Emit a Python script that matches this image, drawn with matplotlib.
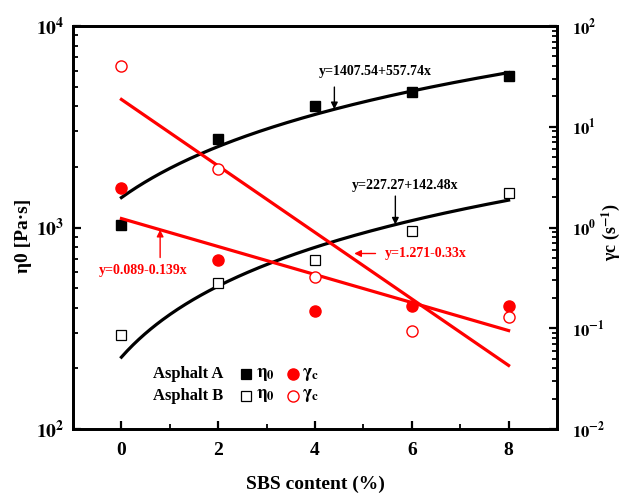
import numpy as np
import matplotlib
matplotlib.use("Agg")
import matplotlib.pyplot as plt
from matplotlib.ticker import LogLocator, FixedLocator, FuncFormatter, NullFormatter

plt.rcParams['font.family'] = ['Liberation Serif', 'DejaVu Serif']
plt.rcParams['font.weight'] = 'bold'
plt.rcParams['mathtext.fontset'] = 'stix'

# ---- data ----
sbs = [0, 2, 4, 6, 8]
eta_A = [1029, 2761, 4018, 4688, 5650]
eta_B = [292, 528, 690, 961, 1483]
gc_A = [2.44, 0.473, 0.148, 0.168, 0.166]
gc_B = [40.5, 3.83, 0.321, 0.0935, 0.129]

# fit equations shown in the chart
fit_eta_A = (1407.54, 557.74)   # eta0 = a + b x
fit_eta_B = (227.27, 142.48)
fit_gc_A = (0.089, -0.139)      # log10(gc) = a + b x
fit_gc_B = (1.271, -0.33)

x_ticks = [0, 2, 4, 6, 8]
x_minor = [1, 3, 5, 7]

RED = '#ff0000'

fig = plt.figure(figsize=(6.22, 4.95), dpi=100)
ax = fig.add_axes([0.1174, 0.1333, 0.7781, 0.8142])
ax2 = ax.twinx()

xf = np.linspace(0, 8, 200)

# left axis: eta0
ax.plot(xf, fit_eta_A[0] + fit_eta_A[1] * xf, color='black', lw=2.3, zorder=2)
ax.plot(xf, fit_eta_B[0] + fit_eta_B[1] * xf, color='black', lw=2.3, zorder=2)
ax.plot(sbs, eta_A, ls='none', marker='s', ms=7, mfc='black', mec='black', zorder=3)
ax.plot(sbs, eta_B, ls='none', marker='s', ms=6.5, mfc='white', mec='black', mew=0.9, zorder=3)

# right axis: gamma_c
ax2.plot(xf, 10 ** (fit_gc_A[0] + fit_gc_A[1] * xf), color=RED, lw=2.3, zorder=2)
ax2.plot(xf, 10 ** (fit_gc_B[0] + fit_gc_B[1] * xf), color=RED, lw=2.3, zorder=2)
ax2.plot(sbs, gc_A, ls='none', marker='o', ms=8, mfc=RED, mec=RED, zorder=3)
ax2.plot(sbs, gc_B, ls='none', marker='o', ms=8, mfc='white', mec=RED, mew=1.0, zorder=3)

ax.set_xlim(-1, 9)
ax.set_yscale('log')
ax.set_ylim(100, 10000)
ax2.set_yscale('log')
ax2.set_ylim(0.01, 100)

ax.xaxis.set_major_locator(FixedLocator(x_ticks))
ax.xaxis.set_minor_locator(FixedLocator(x_minor))

def logfmt(v, pos):
    e = int(round(np.log10(v)))
    return r'$\mathbf{10^{%d}}$' % e

for a in (ax, ax2):
    a.yaxis.set_major_locator(LogLocator(base=10, numticks=10))
    a.yaxis.set_minor_locator(LogLocator(base=10, subs=np.arange(2, 10), numticks=10))
    a.yaxis.set_major_formatter(FuncFormatter(logfmt))
    a.yaxis.set_minor_formatter(NullFormatter())
    for s in a.spines.values():
        s.set_linewidth(2.0)

ax.tick_params(axis='both', which='major', direction='in', length=6, width=1.6, labelsize=14, pad=6)
ax.tick_params(axis='x', which='major', pad=9)
ax.tick_params(axis='both', which='minor', direction='in', length=3.5, width=1.3)
ax.tick_params(axis='y', which='both', right=False)
ax.tick_params(axis='x', which='both', top=False)
ax2.tick_params(axis='y', which='major', direction='in', length=6, width=1.6, labelsize=12, pad=11)
ax2.tick_params(axis='y', which='minor', direction='in', length=3.5, width=1.3)

for lab in ax.get_xticklabels():
    lab.set_fontweight('bold')

ax.set_xlabel('SBS content (%)', fontsize=14, fontweight='bold')
ax.xaxis.set_label_coords(0.5, -0.115)
ax.set_ylabel(r'η0 [Pa·s]', fontsize=14, fontweight='bold')
ax.yaxis.set_label_coords(-0.085, 0.479)
ax2.set_ylabel(r'γc (s$^{\mathbf{-1}}$)', fontsize=13, fontweight='bold')
ax2.yaxis.set_label_coords(1.088, 0.488)

# annotations
arw = dict(arrowstyle='-|>', lw=1.0, mutation_scale=10, shrinkA=0, shrinkB=0)
ax.text(5.25, 5920, 'y=1407.54+557.74x', ha='center', va='center', fontsize=10, fontweight='bold')
ax.annotate('', xy=(4.40, fit_eta_A[0] + fit_eta_A[1] * 4.40), xytext=(4.40, 4977),
            arrowprops=dict(arw, color='black'))
ax.text(5.86, 1607, 'y=227.27+142.48x', ha='center', va='center', fontsize=10, fontweight='bold')
ax.annotate('', xy=(5.66, fit_eta_B[0] + fit_eta_B[1] * 5.66), xytext=(5.66, 1432),
            arrowprops=dict(arw, color='black'))

ax2.text(0.45, 10 ** -0.427, 'y=0.089-0.139x', ha='center', va='center', fontsize=10,
         fontweight='bold', color=RED)
ax2.annotate('', xy=(0.80, 10 ** (fit_gc_A[0] + fit_gc_A[1] * 0.80)), xytext=(0.80, 10 ** -0.298),
             arrowprops=dict(arw, color=RED))
ax2.text(6.28, 10 ** -0.258, 'y=1.271-0.33x', ha='center', va='center', fontsize=10,
         fontweight='bold', color=RED)
ax2.annotate('', xy=(4.81, 10 ** -0.258), xytext=(5.25, 10 ** -0.258),
             arrowprops=dict(arw, color=RED))

# legend (manual)
T = ax.transAxes
rows = [(0.136, 'Asphalt A', True), (0.082, 'Asphalt B', False)]
for yy, name, filled in rows:
    ax.text(0.165, yy, name, transform=T, ha='left', va='center', fontsize=12, fontweight='bold')
    ax.plot([0.357], [yy], transform=T, marker='s', ms=7 if filled else 6.5,
            mfc='black' if filled else 'white', mec='black', mew=0.9, ls='none', clip_on=False)
    ax.text(0.378, yy, r'$\mathbf{\eta}_{\mathbf{0}}$', transform=T, ha='left', va='center', fontsize=13)
    ax.plot([0.455], [yy], transform=T, marker='o', ms=8,
            mfc=RED if filled else 'white', mec=RED, mew=1.0, ls='none', clip_on=False)
    ax.text(0.473, yy, r'$\mathbf{\gamma}_{\mathbf{c}}$', transform=T, ha='left', va='center', fontsize=13)

fig.savefig('out.png', dpi=100)
